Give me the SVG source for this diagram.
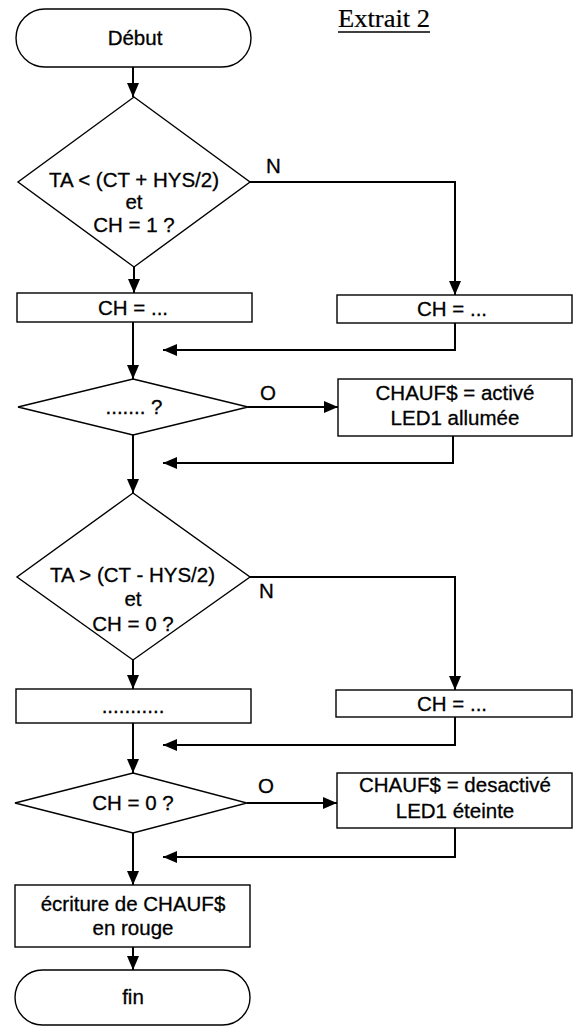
<svg xmlns="http://www.w3.org/2000/svg" width="573" height="1026" viewBox="0 0 573 1026">
<style>
.s{fill:#fff;stroke:#000;stroke-width:1.4}
.c{fill:none;stroke:#000;stroke-width:2}
text{font-family:"Liberation Sans",Arial,sans-serif;font-size:20.5px;fill:#000;stroke:#000;stroke-width:0.3}
.m{text-anchor:middle}
.t{font-family:"Liberation Serif","Times New Roman",serif;font-size:25px;stroke-width:0.2}
</style>
<defs>
<marker id="ah" markerUnits="userSpaceOnUse" markerWidth="14" markerHeight="12" refX="14" refY="6" orient="auto">
<path d="M0,0 L14,6 L0,12 z" fill="#000"/>
</marker>
</defs>
<rect width="573" height="1026" fill="#fff"/>
<g id="title">
<text class="t" x="338" y="27" textLength="92" lengthAdjust="spacingAndGlyphs">Extrait 2</text>
<line x1="338" y1="32" x2="430" y2="32" stroke="#000" stroke-width="1.3"/>
</g>
<g id="connectors">
<line class="c" x1="133" y1="67" x2="133" y2="97" marker-end="url(#ah)"/>
<line class="c" x1="134" y1="267" x2="134" y2="293" marker-end="url(#ah)"/>
<polyline class="c" points="250,182 455,182 455,295" marker-end="url(#ah)"/>
<polyline class="c" points="455,323 455,350 163,350" marker-end="url(#ah)"/>
<line class="c" x1="133" y1="322" x2="133" y2="379" marker-end="url(#ah)"/>
<line class="c" x1="248" y1="407" x2="338" y2="407" marker-end="url(#ah)"/>
<polyline class="c" points="453,436 453,463 163,463" marker-end="url(#ah)"/>
<line class="c" x1="133" y1="435" x2="133" y2="493" marker-end="url(#ah)"/>
<line class="c" x1="133" y1="660" x2="133" y2="689" marker-end="url(#ah)"/>
<polyline class="c" points="250,577 455,577 455,690" marker-end="url(#ah)"/>
<polyline class="c" points="455,717 455,745 163,745" marker-end="url(#ah)"/>
<line class="c" x1="133" y1="723" x2="133" y2="773" marker-end="url(#ah)"/>
<line class="c" x1="247" y1="803" x2="337" y2="803" marker-end="url(#ah)"/>
<polyline class="c" points="455,828 455,857 163,857" marker-end="url(#ah)"/>
<line class="c" x1="133" y1="833" x2="133" y2="885" marker-end="url(#ah)"/>
<line class="c" x1="133" y1="947" x2="133" y2="970" marker-end="url(#ah)"/>
<text x="266" y="173">N</text>
<text x="260" y="400">O</text>
<text x="259" y="598">N</text>
<text x="258" y="793">O</text>
</g>
<g id="debut">
<rect class="s" x="16" y="9" width="235" height="58" rx="29" ry="29"/>
<text class="m" x="135" y="45">Début</text>
</g>
<g id="dec1">
<polygon class="s" points="134,97 250,182 134,267 18,182"/>
<text class="m" x="134" y="187">TA &lt; (CT + HYS/2)</text>
<text class="m" x="134" y="209">et</text>
<text class="m" x="134" y="232">CH = 1 ?</text>
</g>
<g id="box1">
<rect class="s" x="17" y="293" width="235" height="29"/>
<text class="m" x="133" y="315">CH = ...</text>
</g>
<g id="box2">
<rect class="s" x="337" y="295" width="235" height="28"/>
<text class="m" x="452" y="316">CH = ...</text>
</g>
<g id="dec2">
<polygon class="s" points="133,379 248,407 133,435 18,407"/>
<text class="m" x="134" y="414">....... ?</text>
</g>
<g id="box3">
<rect class="s" x="338" y="379" width="234" height="57"/>
<text class="m" x="455" y="400">CHAUF$ = activé</text>
<text class="m" x="455" y="425">LED1 allumée</text>
</g>
<g id="dec3">
<polygon class="s" points="133,493 250,577 133,660 17,577"/>
<text class="m" x="132.5" y="582">TA &gt; (CT - HYS/2)</text>
<text class="m" x="133" y="606">et</text>
<text class="m" x="133" y="631">CH = 0 ?</text>
</g>
<g id="box4">
<rect class="s" x="16" y="689" width="235" height="34"/>
<text class="m" x="133" y="713">...........</text>
</g>
<g id="box5">
<rect class="s" x="336" y="690" width="236" height="27"/>
<text class="m" x="452" y="711">CH = ...</text>
</g>
<g id="dec4">
<polygon class="s" points="133,773 247,803 133,833 15,803"/>
<text class="m" x="133" y="810">CH = 0 ?</text>
</g>
<g id="box6">
<rect class="s" x="337" y="773" width="235" height="55"/>
<text class="m" x="455" y="792">CHAUF$ = desactivé</text>
<text class="m" x="455" y="818">LED1 éteinte</text>
</g>
<g id="box7">
<rect class="s" x="15" y="885" width="235" height="62"/>
<text class="m" x="133" y="911">écriture de CHAUF$</text>
<text class="m" x="133" y="935">en rouge</text>
</g>
<g id="fin">
<rect class="s" x="15" y="970" width="235" height="55" rx="27.5" ry="27.5"/>
<text class="m" x="133" y="1004">fin</text>
</g>
</svg>
